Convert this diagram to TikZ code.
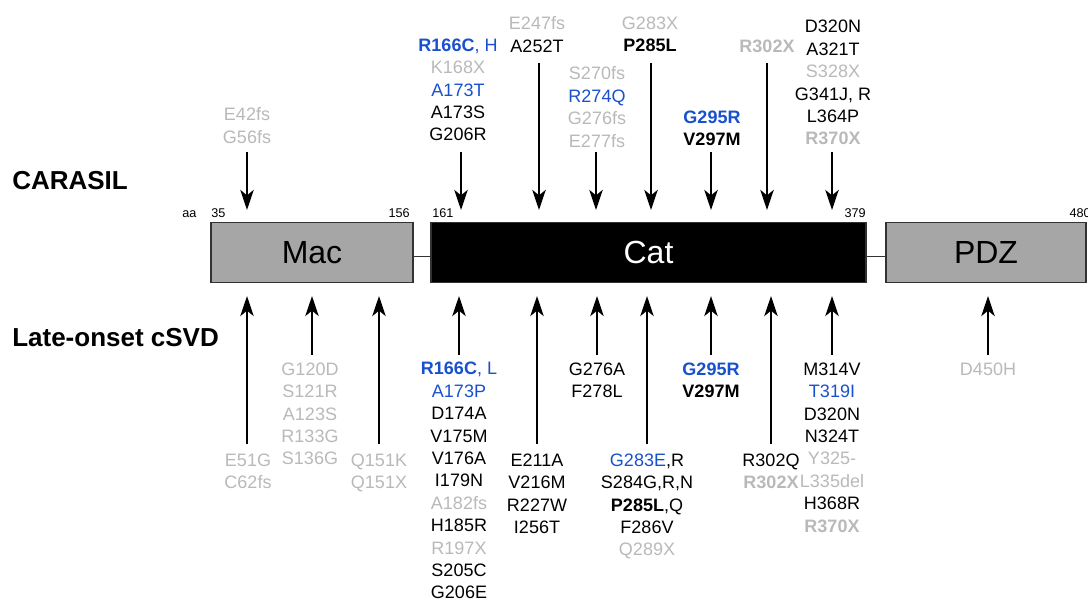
\documentclass[tikz,border=0pt]{standalone}
\usepackage{fontspec}
\setmainfont{Liberation Sans}
\usetikzlibrary{arrows.meta}
\definecolor{mgr}{RGB}{185,185,185}
\definecolor{mbl}{RGB}{25,80,205}
\definecolor{boxgray}{RGB}{166,166,166}
\definecolor{edgegray}{RGB}{50,50,50}
\newcommand{\mgray}[1]{\textcolor{mgr}{#1}}
\newcommand{\mblue}[1]{\textcolor{mbl}{#1}}
\begin{document}
\begin{tikzpicture}[x=0.75pt,y=-0.75pt,
  lbl/.style={align=center, inner sep=0pt, anchor=north, font=\fontsize{13.5}{16.8}\selectfont},
  arr/.style={line width=2pt, -{Stealth[length=15pt,width=10pt,inset=4pt]}},
  dom/.style={draw=edgegray, line width=1.1pt, minimum height=45pt, inner sep=0pt, font=\fontsize{24}{28}\selectfont},
  num/.style={font=\fontsize{9.5}{11}\selectfont, inner sep=0pt},
  grp/.style={font=\fontsize{19.5}{23}\selectfont\bfseries, inner sep=0pt, anchor=base west}]
\useasboundingbox (0,0) rectangle (1088,601);

% domains
\node[dom, fill=boxgray, minimum width=151.5pt] (mac) at (312,252.5) {Mac};
\node[dom, fill=black, text=white, minimum width=326.25pt] (cat) at (648.5,252.5) {Cat};
\node[dom, fill=boxgray, minimum width=150pt] (pdz) at (986,252.5) {PDZ};
\draw[line width=1.1pt, edgegray] ([yshift=-3pt]mac.east) -- ([yshift=-3pt]cat.west);
\draw[line width=1.1pt, edgegray] ([yshift=-3pt]cat.east) -- ([yshift=-3pt]pdz.west);

% residue numbers
\node[num, anchor=base west] (naa) at (182,217.5) {aa};
\node[num, anchor=base west] (n35) at (211,217.5) {35};
\node[num, anchor=base east] (n156) at (410,217.5) {156};
\node[num, anchor=base west] (n161) at (432,217.5) {161};
\node[num, anchor=base east] (n379) at (866,217.5) {379};
\node[num, anchor=base east] (n480) at (1091,217.5) {480};

% group labels
\node[grp] (carasil) at (12,189.5) {CARASIL};
\node[grp] (csvd) at (12,346.5) {Late-onset cSVD};

\coordinate (topY) at (0,210);
\coordinate (botY) at (0,296);

% top labels
\node[lbl] (t1) at (247,107.5) {\mgray{E42fs}\\\mgray{G56fs}};
\node[lbl] (t2) at (458,38.5) {\mblue{\textbf{R166C}, H}\\\mgray{K168X}\\\mblue{A173T}\\A173S\\G206R};
\node[lbl] (t3) at (537,16.5) {\mgray{E247fs}\\A252T};
\node[lbl] (t4) at (597,66.5) {\mgray{S270fs}\\\mblue{R274Q}\\\mgray{G276fs}\\\mgray{E277fs}};
\node[lbl] (t5) at (650,16.5) {\mgray{G283X}\\\textbf{P285L}};
\node[lbl] (t6) at (712,110.5) {\mblue{\textbf{G295R}}\\\textbf{V297M}};
\node[lbl] (t7) at (767,40) {\mgray{\textbf{R302X}}};
\node[lbl] (t8) at (833,20) {D320N\\A321T\\\mgray{S328X}\\G341J, R\\L364P\\\mgray{\textbf{R370X}}};

% top arrows
\coordinate (ta1) at (247,152);
\coordinate (ta2) at (461,152);
\coordinate (ta3) at (539,63);
\coordinate (ta4) at (596,152);
\coordinate (ta5) at (651,63);
\coordinate (ta6) at (711,152);
\coordinate (ta7) at (767,63);
\coordinate (ta8) at (832,152);
\foreach \c in {ta1,ta2,ta3,ta4,ta5,ta6,ta7,ta8}
  \draw[arr] (\c) -- (\c |- topY);

% bottom labels
\node[lbl] (b1) at (248,453.5) {\mgray{E51G}\\\mgray{C62fs}};
\node[lbl] (b2) at (310,362.5) {\mgray{G120D}\\\mgray{S121R}\\\mgray{A123S}\\\mgray{R133G}\\\mgray{S136G}};
\node[lbl] (b3) at (379,453.5) {\mgray{Q151K}\\\mgray{Q151X}};
\node[lbl] (b4) at (459,362) {\mblue{\textbf{R166C}, L}\\\mblue{A173P}\\D174A\\V175M\\V176A\\I179N\\\mgray{A182fs}\\H185R\\\mgray{R197X}\\S205C\\G206E};
\node[lbl] (b5) at (537,453.5) {E211A\\V216M\\R227W\\I256T};
\node[lbl] (b6) at (597,362.5) {G276A\\F278L};
\node[lbl] (b7) at (647,453.5) {\mblue{G283E},R\\S284G,R,N\\\textbf{P285L},Q\\F286V\\\mgray{Q289X}};
\node[lbl] (b8) at (711,362.5) {\mblue{\textbf{G295R}}\\\textbf{V297M}};
\node[lbl] (b9) at (771,453.5) {R302Q\\\mgray{\textbf{R302X}}};
\node[lbl] (b10) at (832,362.5) {M314V\\\mblue{T319I}\\D320N\\N324T\\\mgray{Y325-}\\\mgray{L335del}\\H368R\\\mgray{\textbf{R370X}}};
\node[lbl] (b11) at (988,362.5) {\mgray{D450H}};

% bottom arrows
\coordinate (ba1) at (247,444);
\coordinate (ba2) at (312,355);
\coordinate (ba3) at (379,444);
\coordinate (ba4) at (459,355);
\coordinate (ba5) at (537,444);
\coordinate (ba6) at (597,355);
\coordinate (ba7) at (647,444);
\coordinate (ba8) at (711,355);
\coordinate (ba9) at (771,444);
\coordinate (ba10) at (832,355);
\coordinate (ba11) at (988,355);
\foreach \c in {ba1,ba2,ba3,ba4,ba5,ba6,ba7,ba8,ba9,ba10,ba11}
  \draw[arr] (\c) -- (\c |- botY);
\end{tikzpicture}
\end{document}
